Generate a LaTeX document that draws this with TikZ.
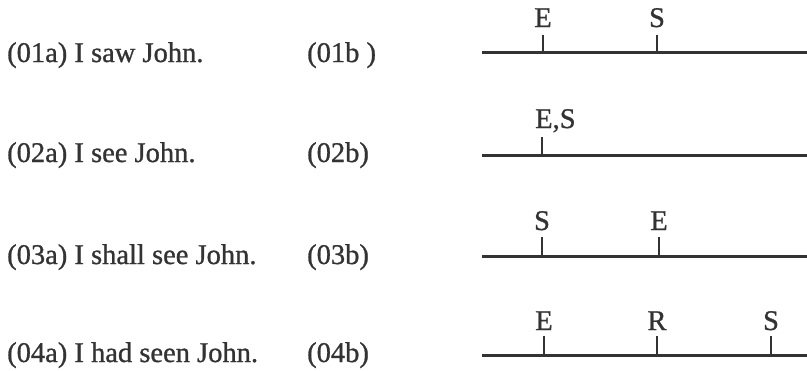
\documentclass[tikz,border=0pt]{standalone}
\usepackage{fontspec}
\setmainfont{Liberation Serif}[FakeBold=0.9]
\definecolor{ink}{HTML}{333333}
\begin{document}
\begin{tikzpicture}[x=1pt,y=-1pt,
  txt/.style={inner sep=0pt,anchor=base west,text=ink,font=\fontsize{28.5}{30}\selectfont},
  lbl/.style={inner sep=0pt,anchor=base,text=ink,font=\fontsize{28.5}{30}\selectfont},
  axis/.style={draw=ink,line width=3pt},
  tick/.style={draw=ink,line width=2.6pt}]
\useasboundingbox (0,0) rectangle (807,370);
% left texts
\node[txt] (a1) at (7,62) {(01a) I saw John.};
\node[txt] (b1) at (307,62) {(01b )};
\node[txt] (a2) at (7,162) {(02a) I see John.};
\node[txt] (b2) at (307,162) {(02b)};
\node[txt] (a3) at (7,264) {(03a) I shall see John.};
\node[txt] (b3) at (307,264) {(03b)};
\node[txt] (a4) at (7,362) {(04a) I had seen John.};
\node[txt] (b4) at (307,362) {(04b)};
% row 1
\coordinate (l1s) at (482,52); \coordinate (l1e) at (808,52);
\draw[axis] (l1s) -- (l1e);
\coordinate (t1a) at (543,52); \coordinate (t1b) at (657,52);
\draw[tick] (t1a) -- ++(0,-17); \draw[tick] (t1b) -- ++(0,-17);
\node[lbl] (e1) at (543,27) {E};
\node[lbl] (s1) at (657,27) {S};
% row 2
\coordinate (l2s) at (482,155); \coordinate (l2e) at (808,155);
\draw[axis] (l2s) -- (l2e);
\coordinate (t2a) at (542,155);
\draw[tick] (t2a) -- ++(0,-18);
\node[txt] (es2) at (535,128) {E,S};
% row 3
\coordinate (l3s) at (482,256); \coordinate (l3e) at (808,256);
\draw[axis] (l3s) -- (l3e);
\coordinate (t3a) at (542,256); \coordinate (t3b) at (659,256);
\draw[tick] (t3a) -- ++(0,-19); \draw[tick] (t3b) -- ++(0,-19);
\node[lbl] (s3) at (542,230) {S};
\node[lbl] (e3) at (659,230) {E};
% row 4
\coordinate (l4s) at (482,355); \coordinate (l4e) at (808,355);
\draw[axis] (l4s) -- (l4e);
\coordinate (t4a) at (544,355); \coordinate (t4b) at (657,355); \coordinate (t4c) at (771,355);
\draw[tick] (t4a) -- ++(0,-19); \draw[tick] (t4b) -- ++(0,-19); \draw[tick] (t4c) -- ++(0,-19);
\node[lbl] (e4) at (544,330) {E};
\node[lbl] (r4) at (657,330) {R};
\node[lbl] (s4) at (771,330) {S};
\end{tikzpicture}
\end{document}
